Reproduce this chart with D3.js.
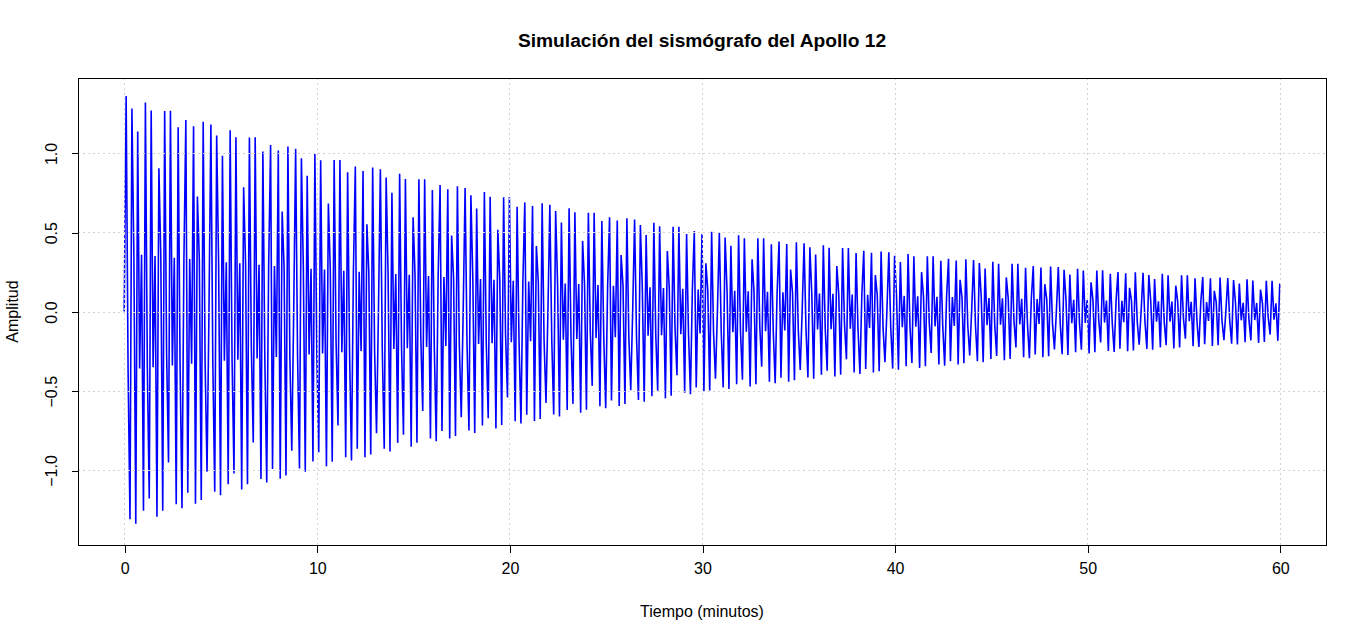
<!DOCTYPE html>
<html>
<head>
<meta charset="utf-8">
<script src="https://cdn.jsdelivr.net/npm/d3@7"></script>
<style>
  html, body { margin: 0; padding: 0; background: #ffffff; }
  svg text { font-family: "Liberation Sans", Arial, sans-serif; fill: #000; }
</style>
</head>
<body>
<div id="chart"></div>
<script>
// Envelope of the trace, every 5 minutes
const envTimes = [0, 5, 10, 15, 20, 25, 30, 35, 40, 45, 50, 55, 60];
const envAmp   = [1.364, 1.16, 0.99, 0.85, 0.72, 0.61, 0.51, 0.435, 0.37, 0.315, 0.265, 0.23, 0.19];

// Normalised sample levels (repeats along the record)
const wavePattern = [
  0.00, 1.00, -0.27, -0.97, 0.95, 0.27, -1.00, 0.85, -0.27, 0.27, -0.95,
  1.00, -0.27, -0.90, 0.97, -0.27, 0.27, -1.00, 0.70, 0.27, -0.98, 0.99,
  -0.20, -0.75, 1.00, -0.27, 0.27, -0.97, 0.93, -0.27, -1.00, 0.27, 0.98,
  -0.93, 0.27, -0.27, 0.96, -1.00, 0.60, 0.27, -0.99, 1.00, -0.27, -0.85
];

const sampleStep = 0.1;   // minutes between samples
const xTicks = [0, 10, 20, 30, 40, 50, 60];
const yTicks = [-1.0, -0.5, 0.0, 0.5, 1.0];

const width = 1366, height = 642;
const plot = { left: 78, right: 1326, top: 78, bottom: 545 };

const envelope = d3.scaleLinear().domain(envTimes).range(envAmp);
const times = d3.range(0, Math.round(60 / sampleStep) + 1).map(i => i * sampleStep);
const trace = times.map((t, i) => ({
  t: t,
  v: wavePattern[i % wavePattern.length] * envelope(t)
}));

// R style 4% padding around the data range
const vMax = d3.max(envAmp);
const x = d3.scaleLinear().domain([-2.4, 62.4]).range([plot.left, plot.right]);
const y = d3.scaleLinear().domain([-vMax * 1.08, vMax * 1.08]).range([plot.bottom, plot.top]);

const svg = d3.select('#chart').append('svg')
  .attr('width', width)
  .attr('height', height)
  .style('background', '#ffffff');

// Trace
svg.append('path')
  .datum(trace)
  .attr('fill', 'none')
  .attr('stroke', '#0000ff')
  .attr('stroke-width', 1.6)
  .attr('stroke-linejoin', 'miter')
  .attr('stroke-miterlimit', 1)
  .attr('d', d3.line().x(d => x(d.t)).y(d => y(d.v)));

// Grid drawn on top, as grid() does after plot()
const grid = svg.append('g')
  .attr('stroke', '#d3d3d3')
  .attr('stroke-width', 1)
  .attr('stroke-dasharray', '2,3')
  .attr('shape-rendering', 'crispEdges');

grid.selectAll('line.vx')
  .data(xTicks)
  .join('line')
  .attr('class', 'vx')
  .attr('x1', d => Math.round(x(d)) + 0.5).attr('x2', d => Math.round(x(d)) + 0.5)
  .attr('y1', plot.top).attr('y2', plot.bottom);

grid.selectAll('line.hy')
  .data(yTicks)
  .join('line')
  .attr('class', 'hy')
  .attr('x1', plot.left).attr('x2', plot.right)
  .attr('y1', d => Math.round(y(d)) + 0.5).attr('y2', d => Math.round(y(d)) + 0.5);

// Box
svg.append('rect')
  .attr('x', plot.left + 0.5)
  .attr('y', plot.top + 0.5)
  .attr('width', plot.right - plot.left)
  .attr('height', plot.bottom - plot.top)
  .attr('fill', 'none')
  .attr('stroke', '#000')
  .attr('stroke-width', 1)
  .attr('shape-rendering', 'crispEdges');

// X axis
const xAxis = d3.axisBottom(x)
  .tickValues(xTicks)
  .tickFormat(d3.format('d'))
  .tickSize(7)
  .tickPadding(10);

const gx = svg.append('g')
  .attr('transform', `translate(0.5,${plot.bottom + 0.5})`)
  .call(xAxis);
gx.select('.domain')
  .attr('d', `M${x(0)},0H${x(60)}`)
  .attr('shape-rendering', 'crispEdges');
gx.selectAll('.tick line').attr('shape-rendering', 'crispEdges');
gx.selectAll('text').attr('font-size', '16px').attr('font-family', null);

// Y axis
const yAxis = d3.axisLeft(y)
  .tickValues(yTicks)
  .tickFormat(d3.format('.1f'))
  .tickSize(7);

const gy = svg.append('g')
  .attr('transform', `translate(${plot.left + 0.5},0.5)`)
  .call(yAxis);
gy.select('.domain')
  .attr('d', `M0,${y(-1)}V${y(1)}`)
  .attr('shape-rendering', 'crispEdges');
gy.selectAll('.tick line').attr('shape-rendering', 'crispEdges');
gy.selectAll('text')
  .attr('font-size', '16px')
  .attr('font-family', null)
  .attr('x', null)
  .attr('dy', null)
  .attr('text-anchor', 'middle')
  .attr('transform', `translate(${56 - plot.left},0) rotate(-90)`);

// Titles
svg.append('text')
  .attr('x', (plot.left + plot.right) / 2)
  .attr('y', 47)
  .attr('text-anchor', 'middle')
  .attr('font-size', '19.2px')
  .attr('font-weight', 'bold')
  .text('Simulación del sismógrafo del Apollo 12');

svg.append('text')
  .attr('x', (plot.left + plot.right) / 2)
  .attr('y', 617)
  .attr('text-anchor', 'middle')
  .attr('font-size', '16px')
  .text('Tiempo (minutos)');

svg.append('text')
  .attr('transform', `translate(18,${(plot.top + plot.bottom) / 2}) rotate(-90)`)
  .attr('text-anchor', 'middle')
  .attr('font-size', '16px')
  .text('Amplitud');
</script>
</body>
</html>
